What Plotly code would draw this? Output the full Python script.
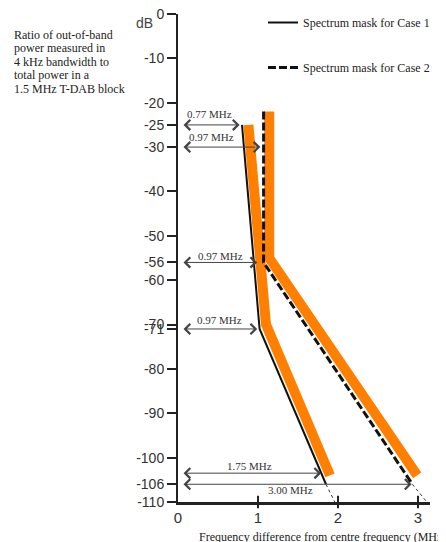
import plotly.graph_objects as go

# ---- data ----
case1_x = [0.80, 1.02, 1.85]
case1_y = [-25, -71, -106]
case1_ext_x = [1.85, 1.96]
case1_ext_y = [-106, -110]

case2_x = [1.07, 1.07, 2.93]
case2_y = [-22, -56, -106]
case2_ext_x = [2.93, 3.11]
case2_ext_y = [-106, -110]

orange1_x = [0.88, 1.10, 1.90]
orange1_y = [-25, -70, -104]
orange2_x = [1.14, 1.14, 2.99]
orange2_y = [-22, -55, -104]

ytick_vals = [0, -10, -20, -25, -30, -40, -50, -56, -60, -70, -71, -80, -90, -100, -106, -110]
ytick_text = ["0", "-10", "-20", "-25", "-30", "-40", "-50", "-56", "-60", "-70", "-71",
              "-80", "-90", "-100", "-106", "-110"]
xtick_vals = [0, 1, 2, 3]
xtick_text = ["0", "1", "2", "3"]
xtick_marks = [1, 2, 3]

arrow_y = [-25, -30, -56, -71, -103.5, -106]
arrow_x = [0.77, 1.03, 0.99, 0.99, 1.79, 2.92]
arrow_labels = ["0.77 MHz", "0.97 MHz", "0.97 MHz", "0.97 MHz", "1.75 MHz", "3.00 MHz"]
label_x = [0.39, 0.42, 0.53, 0.52, 0.89, 1.41]
label_shift = [11, 10, 6, 9, 7, -6]

side_text = ["Ratio of out-of-band", "power measured in", "4 kHz bandwidth to",
             "total power in a", "1.5 MHz T-DAB block"]

SERIF = "Liberation Serif, Times New Roman, serif"
SANS = "Liberation Sans, Arial, sans-serif"
ORANGE = "#ff8000"

# ---- geometry (pixels) ----
# the page body adds an 8px offset, so the figure is 8px smaller and
# reference pixel positions are shifted by 8.
OFF = 8
W, H = 446 - OFF, 542 - OFF
ML, MR, MT, MB = 178 - OFF, 16, 14 - OFF, 40
PW, PH = W - ML - MR, H - MT - MB


def px_x(px):
    return (px - OFF - ML) / PW


def px_y(py):
    return (H - MB - (py - OFF)) / PH


fig = go.Figure()

fig.add_trace(go.Scatter(x=orange1_x, y=orange1_y, mode="lines",
                         line=dict(color=ORANGE, width=10), showlegend=False,
                         cliponaxis=False, hoverinfo="skip"))
fig.add_trace(go.Scatter(x=orange2_x, y=orange2_y, mode="lines",
                         line=dict(color=ORANGE, width=10), showlegend=False,
                         cliponaxis=False, hoverinfo="skip"))

fig.add_trace(go.Scatter(x=case1_x, y=case1_y, mode="lines", name="Spectrum mask for Case 1",
                         line=dict(color="#111", width=2), legend="legend", cliponaxis=False))
fig.add_trace(go.Scatter(x=case1_ext_x, y=case1_ext_y, mode="lines",
                         line=dict(color="#333", width=1, dash="dot"), showlegend=False,
                         cliponaxis=False))
fig.add_trace(go.Scatter(x=case2_x, y=case2_y, mode="lines", name="Spectrum mask for Case 2",
                         line=dict(color="#111", width=3, dash="8px,3px"), legend="legend2",
                         cliponaxis=False))
fig.add_trace(go.Scatter(x=case2_ext_x, y=case2_ext_y, mode="lines",
                         line=dict(color="#333", width=1, dash="dot"), showlegend=False,
                         cliponaxis=False))

# crossing tick marks on x axis
fig.add_trace(go.Scatter(x=xtick_marks, y=[-110] * len(xtick_marks), mode="markers",
                         marker=dict(symbol="line-ns", size=9, line=dict(color="#222", width=2)),
                         showlegend=False, cliponaxis=False, hoverinfo="skip"))

annotations = []
for xe, ye in zip(arrow_x, arrow_y):
    annotations.append(dict(x=xe, y=ye, ax=0, ay=ye, xref="x", yref="y", axref="x", ayref="y",
                            text="", showarrow=True, arrowside="end+start",
                            arrowhead=4, startarrowhead=4, arrowsize=2, startarrowsize=2,
                            arrowwidth=1, arrowcolor="#444", startstandoff=4))
for lx, ly, lt, ls in zip(label_x, arrow_y, arrow_labels, label_shift):
    annotations.append(dict(x=lx, y=ly, xref="x", yref="y", text=lt, showarrow=False,
                            yshift=ls, font=dict(family=SERIF, size=11, color="#333")))

for i, t in enumerate(side_text):
    annotations.append(dict(x=px_x(12), y=px_y(34.5 + 13.5 * i), xref="paper", yref="paper",
                            text=t, showarrow=False, xanchor="left", yanchor="middle",
                            font=dict(family=SERIF, size=12, color="#222")))

annotations.append(dict(x=px_x(144), y=px_y(23), xref="paper", yref="paper", text="dB",
                        showarrow=False, xanchor="center", yanchor="middle",
                        font=dict(family=SANS, size=14, color="#444")))
annotations.append(dict(x=px_x(197), y=px_y(537), xref="paper", yref="paper",
                        text="Frequency difference from centre frequency (MHz)",
                        showarrow=False, xanchor="left", yanchor="middle",
                        font=dict(family=SERIF, size=12, color="#222")))

fig.update_layout(
    width=W, height=H,
    margin=dict(l=ML, r=MR, t=MT, b=MB, autoexpand=False),
    paper_bgcolor="white", plot_bgcolor="white",
    annotations=annotations,
    legend=dict(x=px_x(263), y=px_y(8), xanchor="left", yanchor="top",
                bgcolor="rgba(0,0,0,0)", font=dict(family=SERIF, size=12, color="#222")),
    legend2=dict(x=px_x(263), y=px_y(53), xanchor="left", yanchor="top",
                 bgcolor="rgba(0,0,0,0)", font=dict(family=SERIF, size=12, color="#222")),
)
fig.update_xaxes(range=[0, PW / 80], showgrid=False, zeroline=False, showline=True,
                 linecolor="#222", linewidth=2.5, ticks="", tickvals=xtick_vals,
                 ticktext=xtick_text, tickfont=dict(family=SANS, size=15, color="#333"),
                 ticklabeloverflow="allow")
fig.update_yaxes(range=[-110, 0], showgrid=False, zeroline=False, showline=True,
                 linecolor="#222", linewidth=2, ticks="outside", ticklen=9, tickwidth=2,
                 tickcolor="#222", tickvals=ytick_vals, ticktext=ytick_text,
                 tickfont=dict(family=SANS, size=14, color="#333"),
                 ticklabeloverflow="allow")

fig.write_html("out.html")
